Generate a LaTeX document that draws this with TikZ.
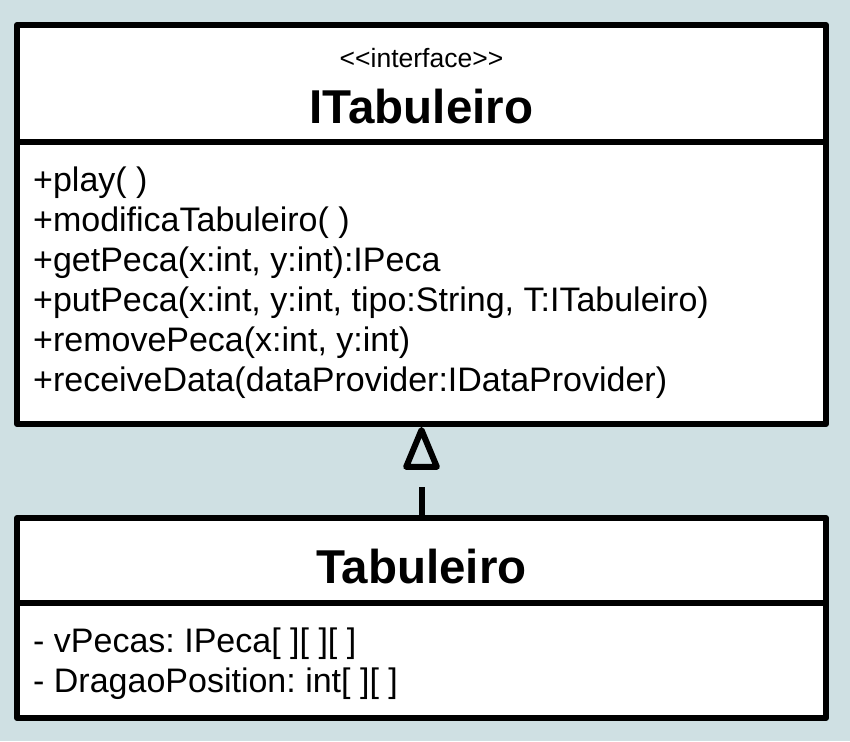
\documentclass[tikz,border=0pt]{standalone}
\usepackage{fontspec}
\setmainfont{Liberation Sans}[Ligatures=TeXOff]
\usepackage{xcolor}
\usetikzlibrary{arrows.meta}
\definecolor{bgblue}{RGB}{207,224,227}
\tikzset{cls/.style={draw,line width=6pt,line join=round,fill=white,inner sep=0pt},
  sep/.style={line width=6pt},
  attr/.style={anchor=base west,inner sep=0pt,font=\fontsize{34}{40}\selectfont},
  stereo/.style={anchor=base,inner sep=0pt,font=\fontsize{26.5}{32}\selectfont},
  cname/.style={anchor=base,inner sep=0pt,font=\fontsize{47.5}{56}\selectfont\bfseries},
  impl/.style={line width=6pt,dash pattern=on 28pt off 20pt,-{Triangle[open,round,length=48pt,width=38pt]}}}
\frenchspacing

\begin{document}
\begin{tikzpicture}[x=1pt,y=-1pt]
\fill[bgblue] (0,0) rectangle (850,741); \useasboundingbox (0,0) rectangle (850,741);
% interface
\node[cls,minimum width=809pt,minimum height=399pt] (itab) at (421.5,224.5) {};
\draw[sep] (itab.west |- 0,142) -- (itab.east |- 0,142);
\node[stereo] (st) at (421.5,68) {<<interface>>}; \node[cname] (iname) at (421.5,123) {ITabuleiro};
\node[attr] (m1) at (33,191) {+play( )}; \node[attr] (m2) at (33,231) {+modificaTabuleiro( )};
\node[attr] (m3) at (33,271) {+getPeca(x:int, y:int):IPeca};
\node[attr] (m4) at (33,311) {+putPeca(x:int, y:int, tipo:String, T:ITabuleiro)};
\node[attr] (m5) at (33,351) {+removePeca(x:int, y:int)};
\node[attr] (m6) at (33,391) {+receiveData(dataProvider:IDataProvider)};
% class
\node[cls,minimum width=809pt,minimum height=200pt] (tab) at (421.5,618) {};
\draw[sep] (tab.west |- 0,603) -- (tab.east |- 0,603);
\node[cname] (tname) at (421.5,583) {Tabuleiro};
\node[attr] (a1) at (33,652) {- vPecas: IPeca[ ][ ][ ]}; \node[attr] (a2) at (33,692) {- DragaoPosition: int[ ][ ]};
\draw[impl] (tab.north) -- (itab.south);
\end{tikzpicture}
\end{document}
